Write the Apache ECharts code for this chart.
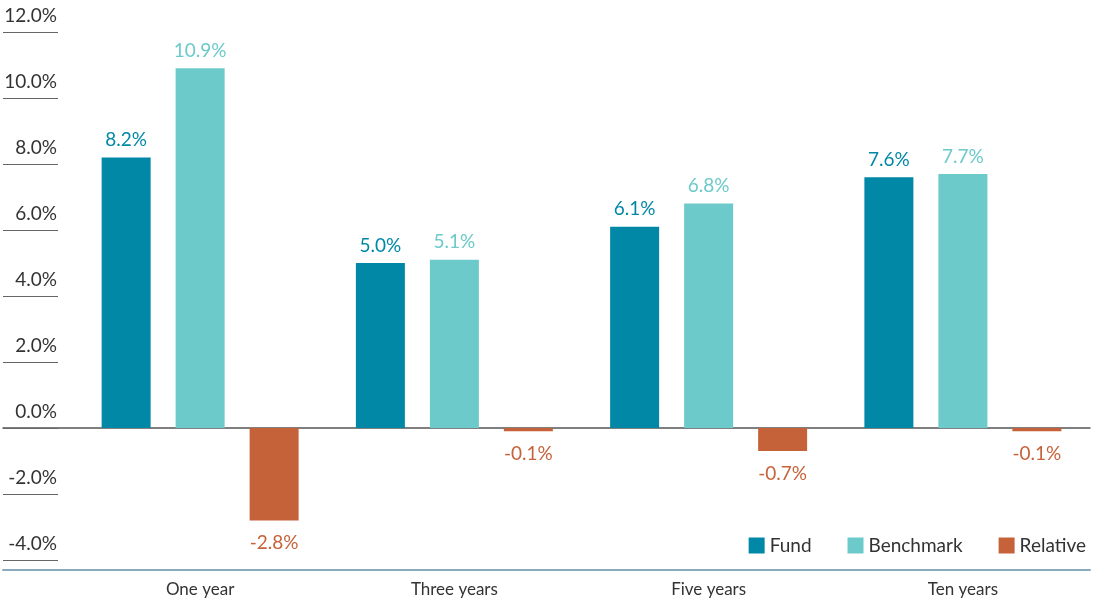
<!DOCTYPE html>
<html>
<head>
<meta charset="utf-8">
<script src="https://cdn.jsdelivr.net/npm/echarts@6/dist/echarts.min.js"></script>
<style>
  html, body { margin: 0; padding: 0; background: #fff; }
  #main { width: 1096px; height: 602px; }
</style>
</head>
<body>
<div id="main"></div>
<script>
var periods = ['One year', 'Three years', 'Five years', 'Ten years'];
var fund = [8.2, 5.0, 6.1, 7.6];
var benchmark = [10.9, 5.1, 6.8, 7.7];
var relative = [-2.8, -0.1, -0.7, -0.1];

var font = 'Lato';
var chartDom = document.getElementById('main');
var myChart = echarts.init(chartDom);
var option;

function pct(p) {
  return p.value.toFixed(1) + '%';
}

function barSeries(name, data, color, pos, dist) {
  return {
    name: name,
    type: 'bar',
    data: data,
    barWidth: 49,
    barGap: '51%',
    itemStyle: { color: color },
    label: {
      show: true,
      position: pos,
      distance: dist,
      formatter: pct,
      color: color,
      fontFamily: font,
      fontSize: 19
    }
  };
}

option = {
  animation: false,
  grid: [
    { left: 73, right: 6, top: 32, bottom: 42 },
    { left: 3, right: 6, top: 32, bottom: 42 }
  ],
  legend: {
    right: 5,
    top: 531,
    itemWidth: 16,
    itemHeight: 16,
    itemGap: 36,
    icon: 'rect',
    textStyle: { fontFamily: font, fontSize: 19, color: '#333' },
    data: ['Fund', 'Benchmark', 'Relative']
  },
  xAxis: [
    {
      type: 'category',
      gridIndex: 0,
      data: periods,
      axisLine: { show: false },
      axisTick: { show: false },
      axisLabel: { margin: 21, fontFamily: font, fontSize: 17, color: '#333' }
    },
    {
      // bottom rule
      type: 'value',
      gridIndex: 1,
      min: 0, max: 1,
      position: 'bottom',
      offset: 10,
      axisLine: { onZero: false, lineStyle: { color: '#8aa9bc', width: 2 } },
      axisTick: { show: false },
      axisLabel: { show: false },
      splitLine: { show: false }
    },
    {
      // zero line
      type: 'value',
      gridIndex: 1,
      min: 0, max: 1,
      position: 'top',
      axisLine: { onZero: true, lineStyle: { color: '#555', width: 1.5 } },
      axisTick: { show: false },
      axisLabel: { show: false },
      splitLine: { show: false }
    }
  ],
  yAxis: [
    {
      type: 'value',
      gridIndex: 0,
      min: -4, max: 12, interval: 2,
      axisLine: { show: false },
      axisTick: { show: false },
      axisLabel: { show: false },
      splitLine: { show: false }
    },
    {
      type: 'value',
      gridIndex: 1,
      min: -4, max: 12, interval: 2,
      axisLine: { show: false },
      axisTick: { show: true, inside: true, length: 55, lineStyle: { color: '#666', width: 1 } },
      axisLabel: {
        inside: true,
        margin: 54,
        align: 'right',
        verticalAlign: 'bottom',
        padding: [0, 0, 7, 0],
        fontFamily: font,
        fontSize: 19,
        color: '#333',
        formatter: function (v) { return v.toFixed(1) + '%'; }
      },
      splitLine: { show: false }
    }
  ],
  series: [
    barSeries('Fund', fund, '#0088a6', 'top', 8),
    barSeries('Benchmark', benchmark, '#6ccaca', 'top', 8),
    barSeries('Relative', relative, '#c6623a', 'bottom', 13)
  ]
};

option && myChart.setOption(option);
</script>
</body>
</html>
